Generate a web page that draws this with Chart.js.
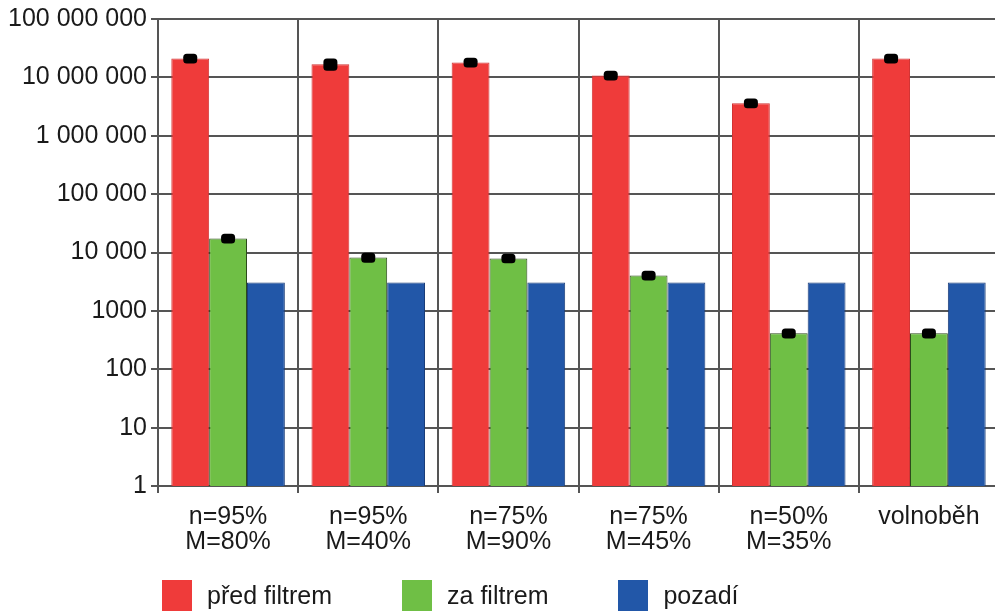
<!DOCTYPE html>
<html lang="cs">
<head>
<meta charset="utf-8">
<title>Koncentrace částic</title>
<script src="https://cdn.jsdelivr.net/npm/chart.js@4/dist/chart.umd.min.js"></script>
<style>
  html, body { margin: 0; padding: 0; background: #fff; overflow: hidden; }
  #wrap { position: relative; width: 1000px; height: 612px; }
  #legend {
    position: absolute; left: 162px; top: 580px;
    display: flex; gap: 70px;
    font: 25px 'Liberation Sans', Arial, sans-serif; color: #1a1a1a;
  }
  .item { display: flex; align-items: center; gap: 15px; }
  .box { width: 30px; height: 31px; }
</style>
</head>
<body>
<div id="wrap">
  <canvas id="c"></canvas>
  <div id="legend"></div>
</div>
<script>
// Measuring points (engine load n, torque M) and idle run
const categories = [
  ['n=95%', 'M=80%'],
  ['n=95%', 'M=40%'],
  ['n=75%', 'M=90%'],
  ['n=75%', 'M=45%'],
  ['n=50%', 'M=35%'],
  'volnoběh'
];

// Particle counts (log scale)
const predFiltrem = [21000000, 16700000, 18000000, 10800000, 3600000, 21000000];
const zaFiltrem   = [17300, 8200, 7900, 4050, 412, 412];
const pozadi      = [3050, 3050, 3050, 3050, 3050, 3050];

// Measurement spread shown as error caps
const predFiltremErr = [2000000, 2400000, 1700000, 1000000, 330000, 2000000];
const zaFiltremErr   = [1600, 800, 700, 380, 40, 40];

const seriesNames = ['před filtrem', 'za filtrem', 'pozadí'];
const yTicks = [1, 10, 100, 1000, 10000, 100000, 1000000, 10000000, 100000000];
const yTickLabels = ['1', '10', '100', '1000', '10 000', '100 000', '1 000 000', '10 000 000', '100 000 000'];

const colors = ['#ef3b3a', '#6fbf45', '#2257a8'];
const borders = ['#d23434', '#2d4a1c', '#1b3d78'];

const FONT = "'Liberation Sans', Arial, sans-serif";
const GRID = '#555555';
const TEXT = '#1a1a1a';

// Error caps: black rounded blobs spanning value ± error
const errorCaps = {
  id: 'errorCaps',
  afterDatasetsDraw(chart) {
    const ctx = chart.ctx;
    const y = chart.scales.y;
    chart.data.datasets.forEach((ds, di) => {
      if (!ds.errors) return;
      const meta = chart.getDatasetMeta(di);
      meta.data.forEach((bar, i) => {
        const v = ds.data[i], e = ds.errors[i];
        const top = y.getPixelForValue(v + e) - 2.5;
        const bot = y.getPixelForValue(v - e) + 2.5;
        const w = 14, h = bot - top;
        ctx.save();
        ctx.fillStyle = '#000';
        ctx.beginPath();
        ctx.roundRect(bar.x - w / 2, top, w, h, Math.min(3.5, h / 2));
        ctx.fill();
        ctx.restore();
      });
    });
  }
};

const chart = new Chart(document.getElementById('c'), {
  type: 'bar',
  data: {
    labels: categories,
    datasets: [
      { label: seriesNames[0], data: predFiltrem, errors: predFiltremErr,
        backgroundColor: colors[0], borderColor: borders[0], borderWidth: 1 },
      { label: seriesNames[1], data: zaFiltrem, errors: zaFiltremErr,
        backgroundColor: colors[1], borderColor: borders[1], borderWidth: 1 },
      { label: seriesNames[2], data: pozadi,
        backgroundColor: colors[2], borderColor: borders[2], borderWidth: 1 }
    ]
  },
  options: {
    responsive: true,
    maintainAspectRatio: false,
    animation: false,
    layout: { padding: { top: 2, right: 1, left: 0, bottom: 45 } },
    datasets: { bar: { categoryPercentage: 0.81, barPercentage: 1.0 } },
    plugins: { legend: { display: false }, tooltip: { enabled: false } },
    scales: {
      x: {
        grid: { color: GRID, lineWidth: 2, offset: true, tickLength: 7 },
        border: { color: GRID, width: 2 },
        ticks: { color: TEXT, padding: 12, maxRotation: 0,
                 font: { family: FONT, size: 25, lineHeight: 1.0 } }
      },
      y: {
        type: 'logarithmic',
        min: 1, max: 100000000,
        grid: { color: GRID, lineWidth: 2, tickLength: 7 },
        border: { color: GRID, width: 2 },
        afterBuildTicks: s => { s.ticks = yTicks.map(v => ({ value: v })); },
        afterFit: s => { s.width = 158; },
        ticks: { color: TEXT, padding: 4,
                 font: { family: FONT, size: 25 },
                 callback: v => yTickLabels[yTicks.indexOf(v)] }
      }
    }
  },
  plugins: [errorCaps]
});

// Legend built from the same series names and colours
const legend = document.getElementById('legend');
seriesNames.forEach((name, i) => {
  const item = document.createElement('div');
  item.className = 'item';
  const box = document.createElement('div');
  box.className = 'box';
  box.style.background = colors[i];
  const txt = document.createElement('span');
  txt.textContent = name;
  item.appendChild(box);
  item.appendChild(txt);
  legend.appendChild(item);
});
</script>
</body>
</html>
